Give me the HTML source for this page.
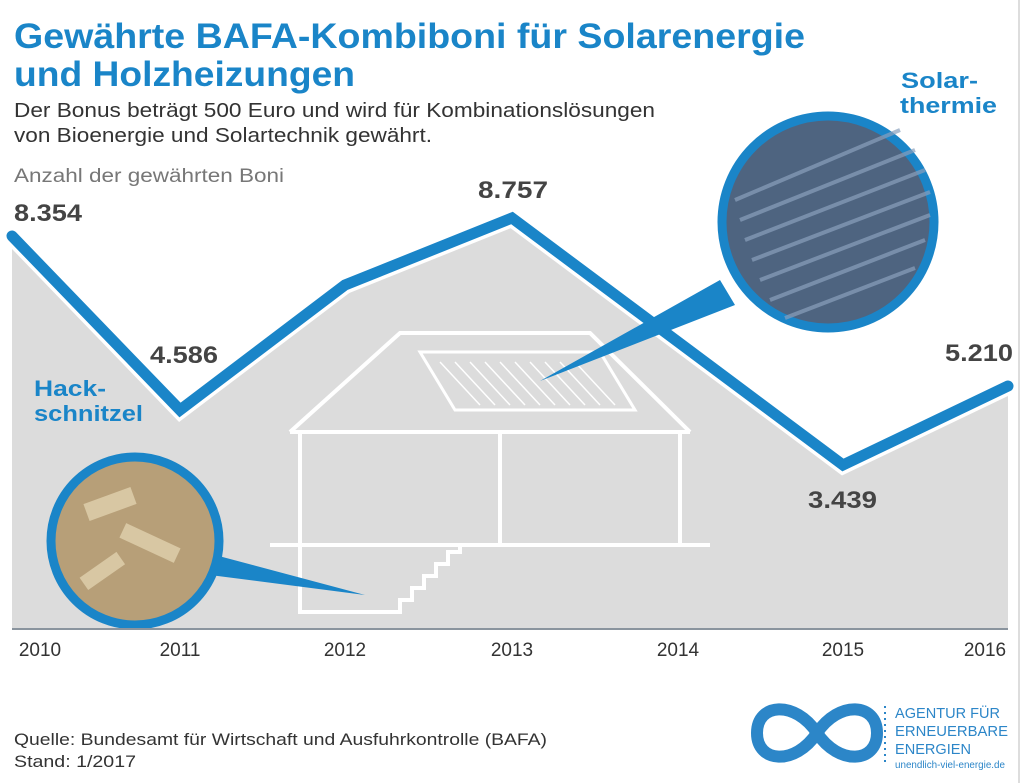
<!DOCTYPE html>
<html><head><meta charset="utf-8"><style>
body{margin:0;background:#fff;}
svg{display:block;font-family:"Liberation Sans",sans-serif;}
</style></head><body>
<svg width="1024" height="783" viewBox="0 0 1024 783" xmlns="http://www.w3.org/2000/svg">
<rect x="0" y="0" width="1024" height="783" fill="#fff"/>
<line x1="1019" y1="0" x2="1019" y2="783" stroke="#ddd" stroke-width="2"/>
<text x="14" y="48" font-size="35" font-weight="bold" fill="#1a85c8" textLength="791" lengthAdjust="spacingAndGlyphs">Gewährte BAFA-Kombiboni für Solarenergie</text>
<text x="14" y="86" font-size="35" font-weight="bold" fill="#1a85c8" textLength="341" lengthAdjust="spacingAndGlyphs">und Holzheizungen</text>
<text x="14" y="117" font-size="20" fill="#333" textLength="641" lengthAdjust="spacingAndGlyphs">Der Bonus beträgt 500 Euro und wird für Kombinationslösungen</text>
<text x="14" y="142" font-size="20" fill="#333" textLength="418" lengthAdjust="spacingAndGlyphs">von Bioenergie und Solartechnik gewährt.</text>
<text x="14" y="182" font-size="19" fill="#777" textLength="270" lengthAdjust="spacingAndGlyphs">Anzahl der gewährten Boni</text>
<polygon points="12,236 180,410 345,285 512,218 843,465 1008,386 1008,628 12,628" fill="#dcdcdc"/>
<g fill="none" stroke="#fff" stroke-width="4">
<polyline points="290,432 400,333 590,333 690,432"/>
<line x1="290" y1="432" x2="690" y2="432"/>
<polyline points="300,432 300,545 710,545"/>
<line x1="500" y1="432" x2="500" y2="545"/>
<line x1="680" y1="432" x2="680" y2="545"/>
<polyline points="300,545 300,612 400,612 400,600 412,600 412,588 424,588 424,576 436,576 436,564 448,564 448,552 460,552 460,545"/>
<line x1="270" y1="545" x2="300" y2="545"/>
<polygon points="420,352 600,352 635,410 455,410" stroke-width="3"/>
</g>
<g stroke="#fff" stroke-width="1.5">
<line x1="440" y1="362" x2="480" y2="405"/><line x1="455" y1="362" x2="495" y2="405"/><line x1="470" y1="362" x2="510" y2="405"/><line x1="485" y1="362" x2="525" y2="405"/><line x1="500" y1="362" x2="540" y2="405"/><line x1="515" y1="362" x2="555" y2="405"/><line x1="530" y1="362" x2="570" y2="405"/><line x1="545" y1="362" x2="585" y2="405"/><line x1="560" y1="362" x2="600" y2="405"/><line x1="575" y1="362" x2="615" y2="405"/>
</g>
<polyline points="12,236 180,410 345,285 512,218 843,465 1008,386" fill="none" stroke="#fff" stroke-width="18" stroke-linejoin="miter"/>
<polyline points="12,236 180,410 345,285 512,218 843,465 1008,386" fill="none" stroke="#1a85c8" stroke-width="11" stroke-linejoin="miter" stroke-linecap="round"/>
<polygon points="540,381 720,280 735,305" fill="#1a85c8"/>
<polygon points="365,595 215,555 210,575" fill="#1a85c8"/>
<circle cx="828" cy="222" r="106" fill="#4e6480" stroke="#1a85c8" stroke-width="9"/>
<g stroke="#8aa0bd" stroke-width="4" opacity="0.7">
<line x1="735" y1="200" x2="900" y2="130"/><line x1="740" y1="220" x2="915" y2="150"/><line x1="745" y1="240" x2="925" y2="170"/><line x1="752" y1="260" x2="930" y2="192"/><line x1="760" y1="280" x2="930" y2="215"/><line x1="770" y1="300" x2="925" y2="240"/><line x1="785" y1="318" x2="915" y2="268"/>
</g>
<circle cx="135" cy="541" r="84" fill="#b79f78" stroke="#1a85c8" stroke-width="9"/>
<g fill="#d8c7a3"><rect x="85" y="495" width="50" height="18" transform="rotate(-20 110 504)"/><rect x="120" y="535" width="60" height="16" transform="rotate(25 150 543)"/><rect x="80" y="565" width="45" height="15" transform="rotate(-35 100 572)"/></g>
<text x="34" y="396" font-size="22" font-weight="bold" fill="#1a85c8" textLength="72" lengthAdjust="spacingAndGlyphs">Hack-</text>
<text x="34" y="421" font-size="22" font-weight="bold" fill="#1a85c8" textLength="109" lengthAdjust="spacingAndGlyphs">schnitzel</text>
<text x="901" y="88" font-size="22" font-weight="bold" fill="#1a85c8" textLength="77" lengthAdjust="spacingAndGlyphs">Solar-</text>
<text x="900" y="113" font-size="22" font-weight="bold" fill="#1a85c8" textLength="97" lengthAdjust="spacingAndGlyphs">thermie</text>
<g font-size="24" font-weight="bold" fill="#444" lengthAdjust="spacingAndGlyphs">
<text x="14" y="221" textLength="68" lengthAdjust="spacingAndGlyphs">8.354</text>
<text x="150" y="363" textLength="68" lengthAdjust="spacingAndGlyphs">4.586</text>
<text x="478" y="198" textLength="70" lengthAdjust="spacingAndGlyphs">8.757</text>
<text x="808" y="508" textLength="69" lengthAdjust="spacingAndGlyphs">3.439</text>
<text x="945" y="361" textLength="68" lengthAdjust="spacingAndGlyphs">5.210</text>
</g>
<line x1="12" y1="629" x2="1008" y2="629" stroke="#8a949e" stroke-width="2"/>
<g font-size="19" fill="#333" text-anchor="middle">
<text x="40" y="656">2010</text><text x="180" y="656">2011</text><text x="345" y="656">2012</text><text x="512" y="656">2013</text><text x="678" y="656">2014</text><text x="843" y="656">2015</text><text x="985" y="656">2016</text>
</g>
<text x="14" y="745" font-size="17" fill="#333" textLength="533" lengthAdjust="spacingAndGlyphs">Quelle: Bundesamt für Wirtschaft und Ausfuhrkontrolle (BAFA)</text>
<text x="14" y="767" font-size="17" fill="#333" textLength="122" lengthAdjust="spacingAndGlyphs">Stand: 1/2017</text>
<path d="M817,733 C795,700 757,703 757,733 C757,763 795,766 817,733 C839,700 877,703 877,733 C877,763 839,766 817,733 Z" fill="none" stroke="#2c86c8" stroke-width="12"/>
<line x1="885" y1="706" x2="885" y2="764" stroke="#2c86c8" stroke-width="2" stroke-dasharray="2,4"/>
<g font-size="15" fill="#2c86c8">
<text x="895" y="718" textLength="105" lengthAdjust="spacingAndGlyphs">AGENTUR FÜR</text>
<text x="895" y="736" textLength="113" lengthAdjust="spacingAndGlyphs">ERNEUERBARE</text>
<text x="895" y="754" textLength="76" lengthAdjust="spacingAndGlyphs">ENERGIEN</text>
<text x="895" y="768" font-size="10" textLength="110" lengthAdjust="spacingAndGlyphs">unendlich-viel-energie.de</text></g>
</svg>
</body></html>
